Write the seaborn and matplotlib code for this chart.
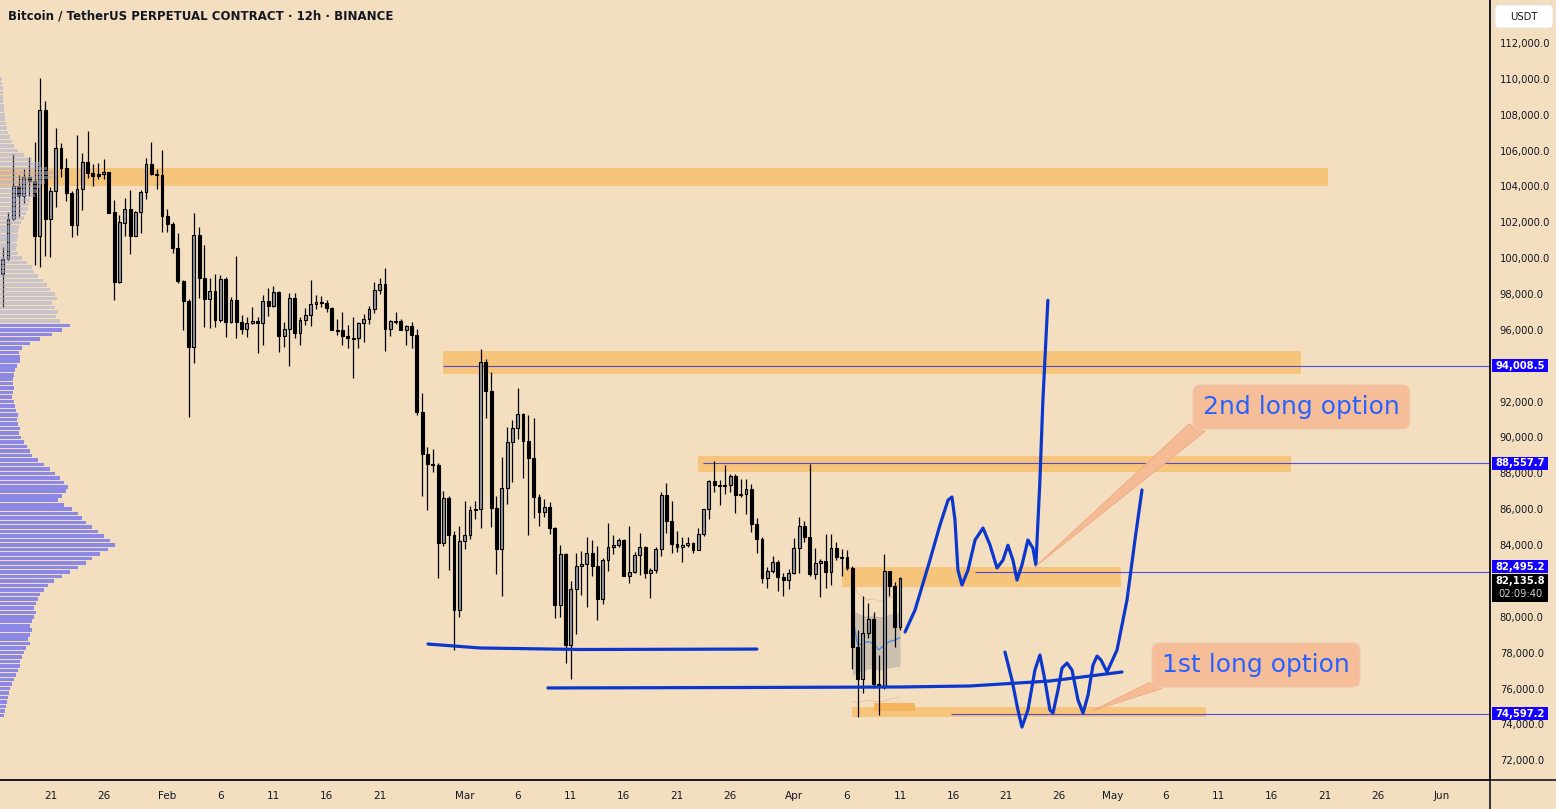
import numpy as np
import pandas as pd
import matplotlib
matplotlib.use("Agg")
import matplotlib.pyplot as plt
import seaborn as sns
from matplotlib.patches import Rectangle, Polygon, FancyBboxPatch
from matplotlib.transforms import blended_transform_factory, IdentityTransform

# 12h candles, first one opens 2025-01-16 12:00, x is days since 2025-01-01
first_day = 15.5
opens = [99100, 99940, 102170, 104030, 103480, 104530, 104320, 101250, 108250, 102200,
         103730, 106130, 105050, 103650, 101870, 103860, 105350, 104770, 104690, 104680,
         104790, 102560, 98650, 101980, 102740, 101250, 102560, 103670, 105240, 104680,
         104650, 102370, 101920, 100580, 98740, 97630, 95030, 101290, 98880, 97710,
         98150, 96540, 98820, 96460, 97650, 96420, 96030, 96370, 96500, 96370,
         97610, 97350, 98110, 95680, 96030, 97780, 95840, 96550, 96830, 97440,
         97560, 97500, 97240, 95990, 95980, 95680, 95560, 95530, 96380, 96610,
         97150, 98230, 98560, 96070, 96500, 96480, 95990, 96220, 95730, 91420,
         89100, 88540, 88480, 84130, 86630, 84560, 80400, 84230, 84550, 85960,
         85990, 94190, 92610, 86080, 83800, 87170, 89730, 90510, 91310, 89820,
         88870, 86700, 85860, 86110, 84940, 80640, 83480, 78440, 81570, 82820,
         82930, 83570, 82850, 81010, 83150, 83880, 83990, 84280, 82290, 82480,
         83430, 83880, 82460, 82590, 83780, 86780, 85360, 84080, 83910, 83980,
         84100, 83740, 84600, 85990, 87590, 87370, 87280, 87340, 87850, 86810,
         86830, 87130, 85160, 84320, 82180, 82550, 83040, 82220, 82070, 82430,
         83820, 85050, 84470, 82390, 82980, 83110, 82510, 83820, 83350, 83310,
         82700, 78300, 76550, 79080, 79860, 76240, 76070, 82540, 81720, 79450]
highs = [100640, 102560, 105810, 104640, 104970, 105630, 106500, 110030, 108770, 103970,
         107240, 106410, 105570, 103760, 106870, 105850, 107090, 105250, 105290, 105530,
         104810, 103240, 102390, 103370, 103800, 102630, 103800, 105590, 106480, 104970,
         106030, 102740, 102000, 101390, 98780, 97710, 102500, 101760, 100730, 98880,
         99120, 99060, 98970, 97850, 100120, 96830, 96720, 97290, 96700, 97950,
         98350, 98450, 98150, 96420, 98040, 98040, 96740, 97240, 98780, 97950,
         97890, 97670, 97290, 96610, 97000, 96270, 96720, 96460, 96890, 97330,
         98690, 98910, 99450, 96550, 97000, 96610, 96290, 96440, 96050, 92460,
         89450, 89360, 88560, 87020, 86740, 84780, 85060, 86460, 86160, 86460,
         94930, 94380, 93650, 86740, 88910, 90580, 90960, 92760, 91370, 91250,
         91070, 86850, 86570, 86400, 85010, 84000, 83570, 82000, 83540, 83670,
         84430, 84280, 83950, 83260, 85210, 84550, 84380, 84340, 85060, 83600,
         84670, 83930, 82700, 83910, 86940, 87460, 86440, 84780, 84470, 84470,
         84190, 84940, 86030, 87630, 88690, 87610, 88470, 87960, 87980, 87680,
         87680, 87410, 85510, 84470, 82790, 83410, 83170, 82460, 82670, 84410,
         85550, 85340, 88500, 83820, 83210, 84600, 84620, 84170, 83760, 83730,
         82850, 79260, 81160, 80750, 80280, 77870, 83500, 82570, 81920, 82200]
lows = [97290, 99900, 102130, 102280, 103090, 103480, 99620, 99520, 100140, 100080,
        102840, 104530, 103200, 101200, 101290, 102690, 104450, 104040, 104410, 104420,
        102500, 97670, 98610, 101250, 100250, 101230, 101390, 103280, 104640, 103860,
        101480, 101440, 100270, 98600, 95990, 91140, 94140, 97760, 96150, 96110,
        96150, 96420, 95620, 96370, 95560, 95750, 95620, 96310, 94700, 95170,
        96790, 97300, 94780, 95060, 94000, 95530, 95160, 96260, 96230, 97160,
        97280, 97020, 95990, 95730, 95160, 95010, 93330, 95010, 95340, 96330,
        96960, 98000, 94820, 95680, 96330, 95990, 95160, 95010, 91270, 86750,
        85970, 88090, 82180, 83970, 82610, 78160, 80000, 83760, 84320, 85440,
        84950, 91100, 85020, 82390, 81180, 86310, 87530, 89930, 87760, 84580,
        85530, 85080, 85560, 84600, 79920, 80010, 77410, 76510, 79020, 81220,
        80560, 82290, 79820, 80710, 82570, 83500, 83910, 82290, 81900, 82450,
        82350, 82180, 81070, 82460, 83410, 84660, 83570, 83630, 83070, 83910,
        83570, 83720, 84520, 85450, 86980, 86250, 86830, 86980, 85810, 86700,
        85720, 84750, 83540, 81900, 81590, 82420, 81460, 81180, 81570, 82400,
        82460, 84160, 82270, 82120, 81120, 81590, 81790, 83170, 82290, 82610,
        77070, 74400, 75730, 78800, 76050, 74520, 75960, 81180, 78330, 79260]
closes = [99940, 102170, 104030, 103480, 104530, 104320, 101250, 108250, 102200, 103730,
          106130, 105050, 103650, 101870, 103860, 105350, 104770, 104600, 104600, 104790,
          102540, 98650, 102000, 102740, 101250, 102560, 103670, 105240, 104680, 104650,
          102370, 101920, 100580, 98740, 97630, 95030, 101290, 98880, 97710, 98150,
          96540, 98820, 96460, 97650, 96420, 96030, 96370, 96500, 96370, 97610,
          97350, 98110, 95680, 96030, 97780, 95840, 96550, 96830, 97440, 97560,
          97500, 97240, 95990, 95980, 95680, 95560, 95530, 96380, 96610, 97150,
          98230, 98560, 96070, 96500, 96480, 95990, 96220, 95730, 91420, 89100,
          88540, 88480, 84130, 86630, 84560, 80400, 84230, 84550, 85960, 85990,
          94190, 92610, 86080, 83800, 87170, 89730, 90510, 91310, 89820, 88870,
          86700, 85860, 86110, 84940, 80640, 83480, 78440, 81570, 82820, 82930,
          83570, 82850, 81010, 83150, 83880, 83990, 84280, 82290, 82480, 83430,
          83880, 82460, 82590, 83780, 86780, 85360, 84080, 83910, 83980, 84100,
          83740, 84600, 85990, 87590, 87370, 87280, 87340, 87850, 86810, 86830,
          87130, 85160, 84320, 82180, 82550, 83040, 82220, 82070, 82430, 83820,
          85050, 84470, 82390, 82980, 83110, 82510, 83820, 83350, 83310, 82700,
          78300, 76550, 79080, 79860, 76240, 76070, 82540, 81720, 79450, 82136]

# visible range volume profile, rows of 250 USDT from 110,000 down to 74,500
profile_prices = list(range(110000, 74499, -250))
profile_volume = [2, 2, 3, 3, 3, 3, 4, 4, 5, 5,
                  6, 7, 8, 10, 12, 14, 18, 24, 32, 40,
                  47, 53, 52, 45, 40, 37, 35, 30, 29, 28,
                  26, 24, 21, 19, 18, 18, 17, 17, 16, 18,
                  22, 27, 32, 34, 38, 43, 47, 50, 55, 57,
                  52, 55, 58, 56, 60, 70, 62, 52, 40, 30,
                  22, 19, 20, 20, 17, 15, 14, 13, 13, 14,
                  13, 12, 14, 15, 16, 18, 17, 18, 20, 19,
                  21, 24, 27, 30, 32, 38, 44, 50, 55, 60,
                  64, 68, 66, 62, 58, 64, 72, 78, 82, 86,
                  92, 98, 104, 110, 115, 108, 100, 92, 86, 78,
                  70, 62, 54, 48, 44, 40, 38, 36, 34, 36,
                  34, 32, 30, 32, 30, 28, 30, 26, 24, 22,
                  20, 20, 18, 16, 14, 12, 10, 9, 8, 7,
                  6, 5, 4]
value_area_top = 96300

# anchored vwap with bands on the last ten candles
vwap_start = 95.5
vwap = [80100, 78430, 78520, 78610, 78520, 78150, 78430, 78610, 78700, 78830]
vwap_upper = [80400, 80200, 80100, 80050, 80100, 80000, 80050, 80150, 80200, 80250]
vwap_lower = [76700, 76900, 77000, 77100, 77100, 77000, 77100, 77150, 77200, 77250]
vwap_outer_up = [82100, 81300, 81100, 80950, 81000, 80850, 80950, 81050, 81150, 81300]
vwap_outer_dn = [75300, 75200, 75300, 75350, 75300, 75250, 75300, 75400, 75450, 75550]

# supply/demand zones: (start day, end day, low, high)
zones = [(10.0, 140.3, 104000, 105050),
         (56.96, 137.75, 93550, 94820),
         (80.97, 136.81, 88090, 88970),
         (94.53, 120.81, 81660, 82780),
         (95.48, 128.81, 74430, 74990)]
inner_zone = (97.55, 101.41, 74770, 75180)

# horizontal price lines: (price, start day)
levels = [(94008.5, 56.96), (88557.7, 81.45), (82495.2, 107.05), (74597.2, 104.80)]
last_price = 82135.8
countdown = "02:09:40"

# hand drawn projections (day, price)
support_a_x = [55.55, 60.45, 69.86, 86.52]
support_a_y = [78480, 78260, 78175, 78200]
support_b_x = [66.85, 84.93, 99.99, 106.59, 114.12, 120.90]
support_b_y = [76030, 76056, 76084, 76140, 76419, 76921]
wave_up_x = [100.47, 101.41, 102.82, 103.76, 104.52, 104.89, 105.17, 105.45, 105.83,
             106.40, 107.06, 107.81, 108.47, 109.13, 109.69, 110.16, 110.63, 111.01,
             111.48, 112.04, 112.51, 112.79, 113.17, 113.45, 113.73, 113.92]
wave_up_y = [79150, 80380, 83170, 85120, 86510, 86680, 85400, 82610, 81770, 82610,
             84280, 84950, 84000, 82720, 83160, 83990, 83160, 82050, 82890, 84280,
             83830, 82890, 87610, 92070, 95420, 97650]
wave_low_x = [109.88, 110.54, 111.10, 111.48, 112.04, 112.70, 113.17, 113.64, 114.11,
              114.40, 114.87, 115.25, 115.72, 116.19, 116.76, 117.23, 117.70, 118.17,
              118.55, 118.92, 119.49, 120.43, 121.37, 122.12, 122.78]
wave_low_y = [78030, 76470, 74800, 73850, 74800, 77030, 77870, 76470, 74800, 74630,
              75910, 77140, 77420, 77030, 75350, 74630, 75630, 77310, 77810, 77590,
              76920, 78150, 80940, 84290, 87070]

callouts = [("2nd long option", 137.80, 91700,
             [(127.20, 90750), (128.71, 90330), (112.80, 82830)]),
            ("1st long option", 133.52, 77310,
             [(123.45, 76330), (124.67, 76000), (118.07, 74745)])]

x_ticks = [20, 25, 31, 36, 41, 46, 51, 59, 64, 69, 74, 79, 84, 90, 95, 100, 105,
           110, 115, 120, 125, 130, 135, 140, 145, 151]
x_labels = ['21', '26', 'Feb', '6', '11', '16', '21', 'Mar', '6', '11', '16', '21',
            '26', 'Apr', '6', '11', '16', '21', '26', 'May', '6', '11', '16', '21',
            '26', 'Jun']
y_ticks = list(range(72000, 114000, 2000))
hidden_ticks = [94000, 82000]   # fully covered by the price labels

BG = '#f3dfc0'
ZONE = '#f7c47b'
UP = '#8f929c'
PEN = '#0b37cc'
TV_BLUE = '#2962ff'
INK = '#131722'

sns.set_style('white')
plt.rcParams['font.family'] = ['DejaVu Sans']

W, H = 1556, 809
fig = plt.figure(figsize=(W / 100, H / 100), dpi=100, facecolor=BG)
ax = fig.add_axes([0, (H - 780) / H, 1490 / W, 780 / H], facecolor=BG)
ax.set_xlim(15.25, 155.55)
ax.set_ylim(70897, 114398)

df = pd.DataFrame({'open': opens, 'high': highs, 'low': lows, 'close': closes})
df['x'] = first_day + 0.5 * np.arange(len(df))
df['up'] = df['close'] >= df['open']
body = (df['close'] - df['open']).to_numpy(dtype=float)
body = np.where(np.abs(body) < 60, np.where(body >= 0, 60, -60), body)

# zones
for x0, x1, lo, hi in zones:
    ax.add_patch(Rectangle((x0, lo), x1 - x0, hi - lo, facecolor=ZONE, edgecolor='none', zorder=1))
ax.add_patch(Rectangle((inner_zone[0], inner_zone[2]), inner_zone[1] - inner_zone[0],
                       inner_zone[3] - inner_zone[2], facecolor='#f5b35c', edgecolor='none', zorder=1.2))

for price, start in levels:
    ax.hlines(price, start, 155.55, color='#2a2ae8', lw=0.8, alpha=0.8, zorder=1.5)

# vwap band
vx = vwap_start + 0.5 * np.arange(len(vwap))
ax.fill_between(vx, vwap_lower, vwap_upper, color='#b5aca6', alpha=0.6, lw=0, zorder=2)
sns.lineplot(x=vx, y=vwap_outer_up, ax=ax, color='#e59a8a', lw=0.7, alpha=0.45, zorder=2.2)
sns.lineplot(x=vx, y=vwap_outer_dn, ax=ax, color='#e59a8a', lw=0.7, alpha=0.45, zorder=2.2)
sns.lineplot(x=vx, y=vwap, ax=ax, color='#4a90e2', lw=1.0, zorder=2.5)

# candles
ax.vlines(df['x'], df['low'], df['high'], color='black', lw=0.9, zorder=3)
up = df['up'].to_numpy()
ax.bar(df['x'][up], body[up], bottom=df['open'][up], width=0.27, color=UP,
       edgecolor='black', lw=0.8, zorder=4)
ax.bar(df['x'][~up], body[~up], bottom=df['open'][~up], width=0.27, color='black',
       edgecolor='black', lw=0.8, zorder=4)

# volume profile on the left
trans = blended_transform_factory(ax.transAxes, ax.transData)
pp = np.array(profile_prices)
pv = np.array(profile_volume) / 1490.0
va = pp <= value_area_top
ax.barh(pp[va], pv[va], height=200, left=0, color='#7373f0', alpha=0.8,
        edgecolor='none', linewidth=0, transform=trans, zorder=5)
ax.barh(pp[~va], pv[~va], height=200, left=0, color='#a9add0', alpha=0.55,
        edgecolor='none', linewidth=0, transform=trans, zorder=5)

# hand drawn projections
for xs, ys in [(support_a_x, support_a_y), (support_b_x, support_b_y),
               (wave_up_x, wave_up_y), (wave_low_x, wave_low_y)]:
    sns.lineplot(x=xs, y=ys, ax=ax, sort=False, estimator=None, color=PEN, lw=2.3,
                 zorder=6, solid_capstyle='round', solid_joinstyle='round')

# callouts
for text, cx, cy, tail in callouts:
    ax.add_patch(Polygon(tail, closed=True, facecolor='#f5bb95', edgecolor='#f0a883',
                         lw=0.6, zorder=7))
    ax.text(cx, cy, text, ha='center', va='center', fontsize=18, color=TV_BLUE, zorder=8,
            bbox=dict(boxstyle='round,pad=0.4,rounding_size=0.3', fc='#f5bd98',
                      ec='#f0c8ac', lw=0.8))

# axes cosmetics
for s in ['top', 'left']:
    ax.spines[s].set_visible(False)
for s in ['bottom', 'right']:
    ax.spines[s].set_color(INK)
    ax.spines[s].set_linewidth(1.2)
ax.yaxis.tick_right()
ax.set_yticks(y_ticks)
ax.set_yticklabels(['' if v in hidden_ticks else f'{v:,.1f}' for v in y_ticks])
ax.set_xticks(x_ticks)
ax.set_xticklabels(x_labels)
ax.tick_params(axis='y', length=0, pad=7, labelsize=7.2, labelcolor=INK)
ax.tick_params(axis='x', length=0, pad=8, labelsize=7.5, labelcolor=INK)
ax.grid(False)

# price labels on the scale
px = 1 / 1490
box_h = 725
for price, start in levels:
    yc = price
    if 0 < price - last_price < 1000:
        yc = last_price + 250 + box_h / 2 + 40
    ax.add_patch(Rectangle((1 + 2 * px, yc - box_h / 2), 56 * px, box_h, transform=trans,
                           facecolor='#1500ff', edgecolor='none', clip_on=False, zorder=9))
    ax.text(1 + 30 * px, yc, f'{price:,.1f}', transform=trans, ha='center', va='center',
            color='white', fontsize=7.2, fontweight='bold', clip_on=False, zorder=10)
ax.add_patch(Rectangle((1 + 2 * px, last_price - 1310), 56 * px, 1560, transform=trans,
                       facecolor='black', edgecolor='none', clip_on=False, zorder=9))
ax.text(1 + 30 * px, last_price - 140, f'{last_price:,.1f}', transform=trans, ha='center',
        va='center', color='white', fontsize=7.2, fontweight='bold', clip_on=False, zorder=10)
ax.text(1 + 30 * px, last_price - 865, countdown, transform=trans, ha='center',
        va='center', color='#cfcfcf', fontsize=7.2, clip_on=False, zorder=10)

# currency badge
fig.add_artist(FancyBboxPatch((1495, H - 28), 58, 23, boxstyle='round,pad=0,rounding_size=4',
                              transform=IdentityTransform(), facecolor='white',
                              edgecolor='#e3e3e3', lw=0.6))
fig.text(1524 / W, 1 - 16.5 / H, 'USDT', ha='center', va='center', fontsize=7.2, color=INK)
fig.text(8 / W, 1 - 16 / H, 'Bitcoin / TetherUS PERPETUAL CONTRACT \u00b7 12h \u00b7 BINANCE',
         ha='left', va='center', fontsize=8.5, fontweight='semibold', color=INK)

# scale separators below / right of the plot
fig.add_artist(plt.Line2D([0, 1], [(H - 780) / H] * 2, color=INK, lw=1.2))
fig.add_artist(plt.Line2D([1490 / W] * 2, [0, 1], color=INK, lw=1.2))

fig.savefig('out.png', dpi=100, facecolor=BG)
